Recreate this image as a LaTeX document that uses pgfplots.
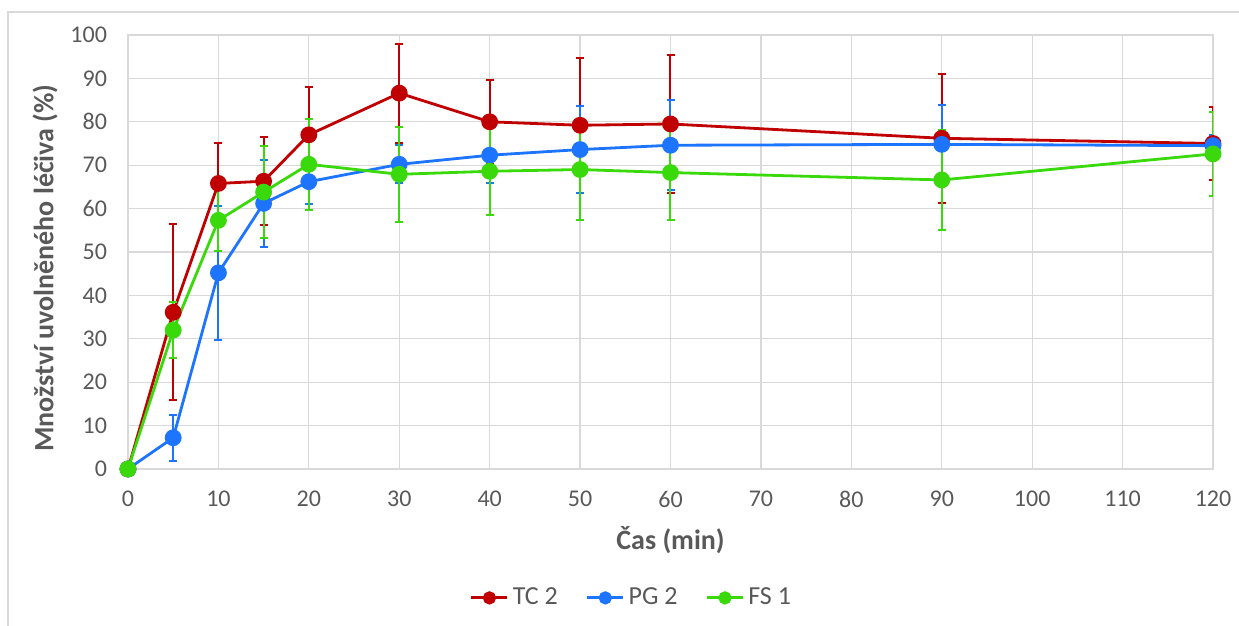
\documentclass[border=0pt]{standalone}
\usepackage{fontspec}
\setmainfont{Carlito}
\usepackage{pgfplots}
\usepackage{pgfplotstable}
\pgfplotsset{compat=1.18}

\definecolor{tcred}{HTML}{C00000}
\definecolor{pgblue}{HTML}{1C74FF}
\definecolor{fsgreen}{HTML}{3AD90B}
\definecolor{txtgray}{HTML}{595959}
\definecolor{gridgray}{HTML}{D9D9D9}

% t = time (min), m = mean released (%), e = error
\pgfplotstableread{
t  m     e
0  0     0
5  36.1  20.3
10 65.8  9.2
15 66.3  10.1
20 77.0  11.0
30 86.6  11.4
40 80.0  9.7
50 79.2  15.6
60 79.5  16.0
90 76.2  14.8
120 75.0 8.5
}\tcdata

\pgfplotstableread{
t  m     e
0  0     0
5  7.2   5.3
10 45.2  15.4
15 61.2  10.1
20 66.2  5.1
30 70.2  4.4
40 72.3  6.3
50 73.6  10.1
60 74.6  10.4
90 74.8  9.0
120 74.5 2.5
}\pgdata

\pgfplotstableread{
t  m     e
0  0     0
5  32.0  6.4
10 57.3  7.1
15 63.8  10.6
20 70.2  10.5
30 67.9  11.0
40 68.6  10.1
50 69.0  11.7
60 68.3  10.9
90 66.6  11.6
120 72.6 9.7
}\fsdata

\begin{document}
\begin{tikzpicture}
\begin{axis}[
    at={(0,0)}, anchor=south west,
    scale only axis,
    width=542.5pt, height=217pt,
    xmin=0, xmax=120, ymin=0, ymax=100,
    xtick distance=10, ytick distance=10,
    major tick length=0pt,
    grid=major,
    grid style={line width=0.6pt, draw=gridgray},
    axis line style={line width=0.6pt, draw=gridgray},
    /pgf/number format/assume math mode=true,
    tick label style={font=\fontsize{12}{14}\selectfont, text=txtgray},
    yticklabel style={xshift=-7pt},
    xticklabel style={yshift=-7.5pt},
    xlabel={Čas (min)},
    ylabel={Množství uvolněného léčiva (\%)},
    label style={font=\fontsize{14}{16}\selectfont\bfseries, text=txtgray},
    xlabel style={at={(axis description cs:0.5,-0.164)}, anchor=center},
    ylabel style={at={(axis description cs:-0.0765,0.463)}, anchor=center},
    legend columns=3,
    legend style={at={(axis description cs:0.465,-0.297)}, anchor=center,
        draw=none, font=\fontsize{13}{15}\selectfont, text=txtgray,
        /tikz/every even column/.append style={column sep=12pt}},
    legend image code/.code={
        \draw[mark repeat=2, mark phase=2, mark size=2.6pt]
            plot coordinates {(0pt,0pt) (9pt,0pt) (18pt,0pt)};},
    every axis plot/.append style={line width=1.4pt, mark=*, mark size=3.5pt},
    error bars/error bar style={line width=1pt},
    error bars/error mark options={rotate=90, mark size=2pt, line width=1pt},
]
\addplot[tcred, mark options={fill=tcred}, error bars/.cd, y dir=both, y explicit]
    table[x=t, y=m, y error=e] {\tcdata};
\addlegendentry{TC 2}
\addplot[pgblue, mark options={fill=pgblue}, error bars/.cd, y dir=both, y explicit]
    table[x=t, y=m, y error=e] {\pgdata};
\addlegendentry{PG 2}
\addplot[fsgreen, mark options={fill=fsgreen}, error bars/.cd, y dir=both, y explicit]
    table[x=t, y=m, y error=e] {\fsdata};
\addlegendentry{FS 1}
\end{axis}
\draw[gridgray, line width=0.6pt] (-60pt,-80pt) -- (-60pt,228.5pt) -- (560pt,228.5pt);
\pgfresetboundingbox
\path[use as bounding box] (-64pt,-78.5pt) rectangle (555.5pt,234.5pt);
\end{tikzpicture}
\end{document}
